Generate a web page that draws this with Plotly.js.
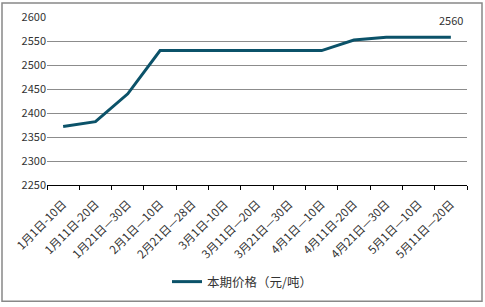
<!DOCTYPE html>
<html>
<head>
<meta charset="utf-8">
<script src="https://cdn.plot.ly/plotly-3.0.1.min.js"></script>
<style>html,body{margin:0;padding:0;background:#fff;}#chart{width:485px;height:307px;}</style>
</head>
<body>
<div id="chart"></div>
<script>
var categories = ["1月1日-10日","1月11日-20日","1月21日—30日","2月1日—10日","2月21日—28日","3月1日-10日","3月11日—20日","3月21日—30日","4月1日—10日","4月11日-20日","4月21日—30日","5月1日—10日","5月11日—20日"];
var prices = [2372, 2382, 2440, 2530, 2530, 2530, 2530, 2530, 2530, 2552, 2558, 2558, 2558];
var seriesName = "本期价格（元/吨）";
var lastLabel = "2560";
var yTicks = [2250, 2300, 2350, 2400, 2450, 2500, 2550, 2600];

var font = "'Noto Sans CJK SC', 'Noto Sans', sans-serif";
var L = 47, R = 18, T = 17, B = 121, W = 485, H = 307;
var pw = W - L - R, ph = H - T - B;
function px(x){ return (x - L) / pw; }
function py(y){ return (H - B - y) / ph; }

var trace = {
  x: categories, y: prices, type: 'scatter', mode: 'lines', name: seriesName,
  line: {color: '#0b5269', width: 3}
};

var layout = {
  width: W, height: H,
  margin: {l: L, r: R, t: T, b: B},
  paper_bgcolor: '#fff', plot_bgcolor: '#fff',
  font: {family: font, size: 11, color: '#333'},
  showlegend: true,
  legend: {orientation: 'h', x: px(242), xanchor: 'center', y: py(282), yanchor: 'middle',
           font: {family: font, size: 12.5, color: '#333'}, itemwidth: 30},
  xaxis: {
    type: 'category', range: [-0.5, categories.length - 0.5],
    showgrid: false, showline: true, linecolor: '#000', linewidth: 1,
    ticks: 'outside', ticklen: 4, tickcolor: '#000', tickson: 'boundaries',
    ticklabelstandoff: 7,
    tickangle: -45, tickfont: {family: font, size: 11.5, color: '#333'},
    zeroline: false, fixedrange: true
  },
  yaxis: {
    range: [2250, 2600], tickvals: yTicks, ticktext: yTicks.map(String),
    showgrid: true, gridcolor: '#8c8c8c', gridwidth: 1,
    showline: false, zeroline: false, ticks: '',
    tickfont: {family: font, size: 11, color: '#333'}, fixedrange: true
  },
  annotations: [{
    x: categories[categories.length - 1], y: prices[prices.length - 1],
    text: lastLabel, showarrow: false, yanchor: 'bottom', yshift: 7,
    font: {family: font, size: 11, color: '#333'}
  }],
  shapes: [{
    type: 'rect', xref: 'paper', yref: 'paper',
    x0: px(2), x1: px(482), y0: py(303), y1: py(3),
    line: {color: '#888', width: 1.5}, fillcolor: 'rgba(0,0,0,0)', layer: 'below'
  }]
};

Plotly.newPlot('chart', [trace], layout, {displayModeBar: false, staticPlot: true});
</script>
</body>
</html>
